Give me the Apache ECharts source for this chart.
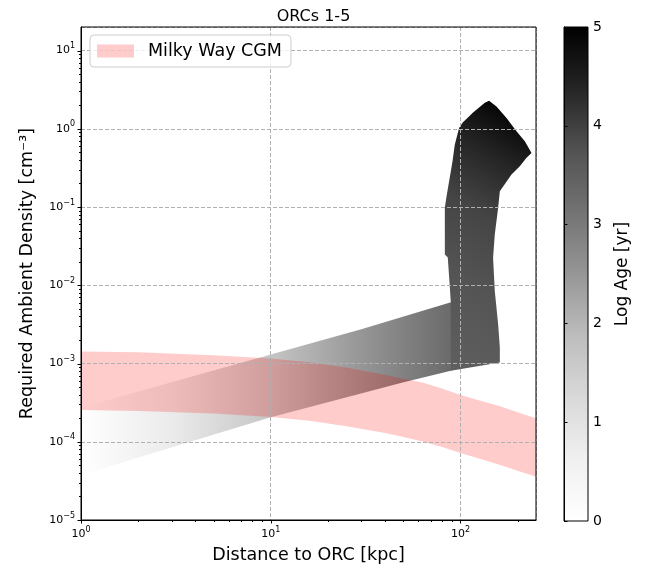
<!DOCTYPE html>
<html><head><meta charset="utf-8">
<script src="https://cdn.jsdelivr.net/npm/echarts@6/dist/echarts.min.js"></script>
<style>html,body{margin:0;padding:0;background:#fff}#c{width:645px;height:569px}</style>
</head><body><div id="c"></div>
<script>
// ---- axis ticks ----
const xMajor = [1, 10, 100];
const xMinor = [2,3,4,5,6,7,8,9,20,30,40,50,60,70,80,90,200];
const yMajor = [1e-5, 1e-4, 1e-3, 1e-2, 1e-1, 1, 10];
const yMinor = [];
[1e-5,1e-4,1e-3,1e-2,1e-1,1].forEach(d => [2,3,4,5,6,7,8,9].forEach(m => yMinor.push(+(m*d).toPrecision(3))));
const cbarTicks = [0, 1, 2, 3, 4, 5];

// ---- Milky Way CGM band ----
const cgmX    = [1, 2, 5, 10, 16, 25, 40, 50, 63, 80, 100, 125, 160, 200, 250];
const cgmLow  = [2.54e-4, 2.48e-4, 2.29e-4, 2.07e-4, 1.86e-4, 1.58e-4, 1.29e-4, 1.15e-4, 1.01e-4, 8.6e-5, 7.2e-5, 6.1e-5, 5.1e-5, 4.27e-5, 3.58e-5];
const cgmHigh = [1.42e-3, 1.39e-3, 1.28e-3, 1.16e-3, 1.04e-3, 8.9e-4, 7.2e-4, 6.4e-4, 5.7e-4, 4.8e-4, 3.95e-4, 3.4e-4, 2.87e-4, 2.39e-4, 2.0e-4];

// ---- ORC region: low-distance band (outline) ----
const bandX = [1, 9.9, 49.6, 90, 90, 30, 10, 1];
const bandY = [3.76e-5, 2.04e-4, 5.73e-4, 8.15e-4, 6.1e-3, 2.75e-3, 1.3e-3, 2.75e-4];
// age (log yr) along the band, by distance
const bandAgeX = [1, 3, 10, 30, 90];
const bandAge  = [0, 0.75, 1.7, 2.5, 3.3];

// ---- ORC region: high-distance column (outline) ----
const colX = [161.2, 161.2, 157.9, 151.6, 148.5, 151.6, 157.9, 161.2, 185.7, 205.4, 222.8, 236.8, 218.3, 197.3, 174.8, 154.8, 141.5, 134.3, 116.1, 102.8, 98.3, 93.3, 90.7, 87.8, 84.7, 82.7, 82.7, 85.7, 87.8, 88.9, 88.9, 99];
const colY = [1.03e-3, 1.60e-3, 3.17e-3, 8.43e-3, 2.25e-2, 4.46e-2, 9.77e-2, 0.159, 0.26, 0.331, 0.425, 0.491, 0.691, 0.927, 1.37, 1.93, 2.28, 2.15, 1.60, 1.20, 1.02, 0.627, 0.380, 0.238, 0.144, 0.0986, 0.0248, 0.0227, 9.68e-3, 6.05e-3, 8.1e-4, 8.45e-4];
// age along the column's gradient direction
const colGradFrom = [93, 8.5e-4];
const colGradTo   = [577, 1.3];
const colGradPos  = [0, 0.28, 0.51, 0.7, 0.85, 1];
const colGradAge  = [3.5, 3.72, 3.95, 4.4, 4.9, 5.0];

// ---- colour map (Greys, 0..5) ----
const AGE_MIN = 0, AGE_MAX = 5;
const GREYS = [[255,255,255],[240,240,240],[217,217,217],[189,189,189],[150,150,150],[115,115,115],[82,82,82],[37,37,37],[0,0,0]];
function greyOf(age) {
  let t = Math.max(0, Math.min(1, (age - AGE_MIN) / (AGE_MAX - AGE_MIN))) * 8;
  const i = Math.min(7, Math.floor(t)); const f = t - i;
  const a = GREYS[i], b = GREYS[i + 1];
  const c = a.map((v, k) => Math.round(v + (b[k] - v) * f));
  return 'rgb(' + c.join(',') + ')';
}

const FONT = 'DejaVu Sans';
function logLabel(v) {
  const l = Math.log10(v), e = Math.round(l);
  if (Math.abs(l - e) > 1e-6) return '';
  return '{b|10}{s|' + (e < 0 ? '\u2212' + (-e) : e) + '}';
}
const richTick = {
  b: {fontSize: 11, fontFamily: FONT, color: '#000'},
  s: {fontSize: 8, fontFamily: FONT, color: '#000', padding: [0, 0, 9, 0]}
};

function polygonSeries(name, xs, ys, z, fillFn) {
  return {
    type: 'custom', name, xAxisIndex: 0, yAxisIndex: 0, z, clip: true, silent: true,
    data: xs.map((x, i) => [x, ys[i]]),
    renderItem: (params, api) => {
      if (params.dataIndex !== 0) return null;
      const pts = xs.map((x, i) => api.coord([x, ys[i]]));
      return {type: 'polygon', shape: {points: pts}, style: {fill: fillFn(api), stroke: null}};
    }
  };
}

const cgmPolyX = cgmX.concat(cgmX.slice().reverse());
const cgmPolyY = cgmHigh.concat(cgmLow.slice().reverse());

const bandSeries = polygonSeries('band', bandX, bandY, 1, api => {
  const p0 = api.coord([bandAgeX[0], 1e-3])[0];
  const p1 = api.coord([bandAgeX[bandAgeX.length - 1], 1e-3])[0];
  return {type: 'linear', x: p0, y: 0, x2: p1, y2: 0, global: true,
    colorStops: bandAgeX.map((x, i) => ({offset: (api.coord([x, 1e-3])[0] - p0) / (p1 - p0), color: greyOf(bandAge[i])}))};
});
const colSeries = polygonSeries('column', colX, colY, 1, api => {
  const a = api.coord(colGradFrom), b = api.coord(colGradTo);
  return {type: 'linear', x: a[0], y: a[1], x2: b[0], y2: b[1], global: true,
    colorStops: colGradPos.map((o, i) => ({offset: o, color: greyOf(colGradAge[i])}))};
});
const cgmSeries = polygonSeries('Milky Way CGM', cgmPolyX, cgmPolyY, 2, () => 'rgba(255,0,0,0.2)');
cgmSeries.itemStyle = {color: 'rgba(255,0,0,0.2)'};

const tickData = [];
xMajor.forEach(v => tickData.push([v, 1e-5, 3.5, 0]));
xMinor.forEach(v => tickData.push([v, 1e-5, 2, 0]));
yMajor.forEach(v => tickData.push([1, v, 3.5, 1]));
yMinor.forEach(v => tickData.push([1, v, 2, 1]));
const tickSeries = {
  type: 'custom', xAxisIndex: 0, yAxisIndex: 0, z: 5, clip: false, silent: true,
  data: tickData,
  renderItem: (params, api) => {
    const c = api.coord([api.value(0), api.value(1)]);
    const L = api.value(2);
    if (api.value(3) === 0) {
      const x = Math.round(c[0]) + 0.5;
      return {type: 'line', shape: {x1: x, y1: c[1], x2: x, y2: c[1] + L}, style: {stroke: '#000', lineWidth: 1}};
    }
    const y = Math.round(c[1]) + 0.5;
    return {type: 'line', shape: {x1: c[0] - L, y1: y, x2: c[0], y2: y}, style: {stroke: '#000', lineWidth: 1}};
  }
};

const cbarSeries = {
  type: 'custom', xAxisIndex: 1, yAxisIndex: 1, z: 1, silent: true,
  data: [[0, AGE_MIN, 1, AGE_MAX]],
  renderItem: (params, api) => {
    const p0 = api.coord([api.value(0), api.value(1)]);
    const p1 = api.coord([api.value(2), api.value(3)]);
    return {type: 'rect', shape: {x: p0[0], y: p1[1], width: p1[0] - p0[0], height: p0[1] - p1[1]},
      style: {fill: new echarts.graphic.LinearGradient(0, 1, 0, 0, GREYS.map((c, i) => ({offset: i / 8, color: 'rgb(' + c.join(',') + ')'})))}};
  }
};

const chart = echarts.init(document.getElementById('c'), null, {renderer: 'canvas'});
chart.setOption({
  animation: false,
  textStyle: {fontFamily: FONT},
  title: {text: 'ORCs 1-5', left: 308.5, top: 4, textAlign: 'center',
    textStyle: {fontSize: 16, fontWeight: 'normal', color: '#000', fontFamily: FONT}},
  legend: {
    left: 90, top: 35, selectedMode: false, z: 10,
    data: [{name: 'Milky Way CGM', icon: 'rect', itemStyle: {color: 'rgba(255,0,0,0.2)'}}],
    itemWidth: 37, itemHeight: 13, padding: [7, 9, 7, 7],
    backgroundColor: 'rgba(255,255,255,0.8)', borderColor: '#cccccc', borderWidth: 1, borderRadius: 4,
    textStyle: {fontSize: 17.5, fontFamily: FONT, color: '#000', padding: [0, 0, 0, 9]}
  },
  grid: [
    {left: 81, right: 109, top: 27, bottom: 48, show: true, borderColor: '#000', borderWidth: 1, z: 4, backgroundColor: 'transparent'},
    {left: 564, right: 57, top: 27, bottom: 48, show: true, borderColor: '#000', borderWidth: 1, z: 4, backgroundColor: 'transparent'}
  ],
  xAxis: [
    {type: 'log', logBase: 10, min: 1, max: 250, gridIndex: 0, z: 3,
      name: 'Distance to ORC [kpc]', nameLocation: 'middle', nameGap: 26, nameMoveOverlap: false,
      nameTextStyle: {fontSize: 17.5, color: '#000', fontFamily: FONT},
      axisLine: {show: true, lineStyle: {color: '#000', width: 1}},
      axisTick: {show: false},
      splitLine: {show: true, lineStyle: {color: '#b0b0b0', type: [4, 2], width: 1}},
      axisLabel: {formatter: logLabel, rich: richTick, margin: 6, showMaxLabel: false}},
    {type: 'value', gridIndex: 1, min: 0, max: 1, show: false}
  ],
  yAxis: [
    {type: 'log', logBase: 10, min: 1e-5, max: 20, gridIndex: 0, z: 3,
      name: 'Required Ambient Density [cm\u207B\u00B3]', nameLocation: 'middle', nameGap: 45, nameRotate: 90, nameMoveOverlap: false,
      nameTextStyle: {fontSize: 17.5, color: '#000', fontFamily: FONT},
      axisLine: {show: true, lineStyle: {color: '#000', width: 1}},
      axisTick: {show: false},
      splitLine: {show: true, lineStyle: {color: '#b0b0b0', type: [4, 2], width: 1}},
      axisLabel: {formatter: logLabel, rich: richTick, margin: 6, showMaxLabel: false}},
    {type: 'value', gridIndex: 1, min: AGE_MIN, max: AGE_MAX, interval: 1, position: 'right', z: 5,
      name: 'Log Age [yr]', nameLocation: 'middle', nameGap: 26, nameRotate: 90, nameMoveOverlap: false,
      nameTextStyle: {fontSize: 17, color: '#000', fontFamily: FONT},
      axisLine: {show: true, lineStyle: {color: '#000', width: 1}},
      axisTick: {show: true, inside: false, length: 3.5, lineStyle: {color: '#000', width: 1}},
      splitLine: {show: false},
      axisLabel: {fontSize: 14, color: '#000', fontFamily: FONT, margin: 5,
        customValues: cbarTicks}}
  ],
  series: [bandSeries, colSeries, cgmSeries, tickSeries, cbarSeries]
});
</script></body></html>
